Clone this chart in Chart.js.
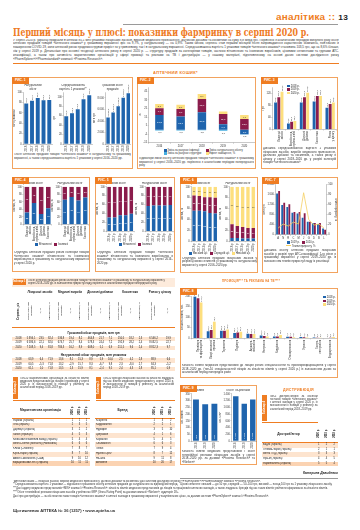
<!DOCTYPE html>
<html lang="uk"><head><meta charset="utf-8">
<script src="https://cdn.jsdelivr.net/npm/chart.js@4.4.1/dist/chart.umd.min.js"></script>
<style>
html,body{margin:0;padding:0;background:#fff}
body{width:360px;height:530px;position:relative;overflow:hidden;font-family:"Liberation Sans",Arial,sans-serif;color:#222}
.tag{position:absolute;background:#ef7d22;color:#fff;font-size:3.3px;font-weight:bold;height:7px;line-height:7px;padding:0 3px;white-space:nowrap}
.cap{position:absolute;font-size:2.9px;line-height:3.5px;text-align:justify;color:#333;overflow:hidden}
.leg{position:absolute;font-size:2.7px;line-height:3.4px;white-space:nowrap;color:#333}
.leg i{display:inline-block;width:3px;height:2.5px;margin:0 0.8px 0 1.5px;vertical-align:-0.3px}
.rot{writing-mode:vertical-rl;transform:rotate(180deg);white-space:nowrap}
.hd{position:absolute;color:#ef7d22;font-weight:bold;white-space:nowrap;letter-spacing:0.3px}
</style>
</head><body>
<script>
// ================= DATA =================
const fig1Years=["2016","2017","2018","2019","2020"];
const fig1Packs=[78.2,83.4,88.9,84.3,85.1];
const fig1AvgPrice=[59.2,65.5,73.6,95.3,103.5];
const fig1Money=[4628.4,5461.7,6546.2,8032.5,8812.3];

const fig2Years=["2016","2017","2018","2019","2020"];
const fig2Inflation=[17.3,15.7,20.5,6.7,-5.1];
const fig2Natural=[7.9,8.7,15.7,11.8,12.6];
const fig2Structure=[5.1,5.1,5.9,3.1,4.7];
const fig2Other=[-0.6,-0.8,-0.5,-1.0,-0.3];

const fig3Cats=[["Лікарські","засоби"],["Вироби мед.","призначення"],["Дієтичні","добавки"],["Косметика"],["Ринок","у цілому"]];
const fig3Y2018=[89.6,19.6,89.6,92.4,71.4];
const fig3Y2019=[106.4,25.2,106.4,110.6,84.0];
const fig3Y2020=[124.6,28.0,121.8,110.6,89.6];

const fig4Cats=[["Лікарські","засоби"],["Вироби мед.","призначення"],["Дієтичні","добавки"],["Косметика"]];
const fig4MoneyDomestic=[32,57,28,43];
const fig4MoneyForeign=[68,43,72,57];
const fig4PacksDomestic=[66,73,64,72];
const fig4PacksForeign=[34,27,36,28];

const fig5Years=["2016 р.","2017 р.","2018 р.","2019 р.","2020 р."];
const fig5MoneyDomestic=[31,31,36,36,39];
const fig5MoneyForeign=[69,69,64,64,61];
const fig5PacksDomestic=[57,58,58,58,59];
const fig5PacksForeign=[43,42,42,42,41];

const fig6Years=["2016 р.","2017 р.","2018 р.","2019 р.","2020 р."];
const fig6MoneyHigh=[56,56,55,52,51];
const fig6MoneyMid=[28,27,26,29,29];
const fig6MoneyLow=[16,17,19,19,20];
const fig6PacksHigh=[6,6,5,5,5];
const fig6PacksMid=[25,22,21,19,19];
const fig6PacksLow=[69,72,74,76,76];

const fig7Groups=["A","N","R","C","M","J","G","D","B","L"];
const fig7Y2019=[1627,1173,1093,867,840,667,507,467,427,240];
const fig7Y2020=[1733,1267,1200,893,893,853,507,467,460,200];
const fig7Growth=[13,21,17,25,21,83,30,19,21,13];

const fig8Spec=[["Провізори","та фармацевти"],["Лікарі загальної","практики"],["Терапевти"],["Педіатри"],["Акушери-","гінекологи"],["Неврологи"],["Кардіологи"],["Отоларингологи"],["Урологи"],["Гастро-","ентерологи"],["Ендокринологи"]];
const fig8Y2018=[198,33,36,25,22,13,9,7,6,4,2];
const fig8Y2019=[190,40,36,27,20,11,9,7,5,3,2.5];
const fig8Y2020=[170,78,42,31,20,9,16,5.5,4,3,6];

const fig9Years=["2018","2019","2020"];
const fig9Visits=[308,272,277];
const fig9TvGrp=[1330,1106,1232];

const t1Groups=["Лікарські засоби","Медичні вироби","Дієтичні добавки","Косметика","Ринок у цілому"];
const t1Years=["2018","2019","2020"];
const t1Money2018=[5394.1,23.5,82.4,536.8,19.4,8.2,464.8,21.7,7.1,150.5,18.2,2.3,6546.2,19.9];
const t1Money2019=[6586.6,22.1,82.0,674.7,25.7,8.4,578.3,24.4,7.2,192.9,28.2,2.4,8032.5,22.7];
const t1Money2020=[7208.5,9.4,81.8,784.3,16.2,8.9,608.0,5.1,6.9,211.5,9.6,2.4,8812.3,9.7];
const t1Packs2018=[63.9,6.4,71.9,13.6,8.1,15.3,8.9,5.9,10.0,2.5,4.2,2.8,88.9,6.6];
const t1Packs2019=[60.5,-5.3,71.8,13.2,-2.9,15.7,8.3,-6.7,9.8,2.3,-8.0,2.7,84.3,-5.2];
const t1Packs2020=[61.1,1.0,71.8,13.5,2.3,15.9,8.1,-2.4,9.5,2.4,4.3,2.8,85.1,0.9];

const rankYears=["2020 р.","2019 р.","2018 р."];
const t2Orgs=["Фармак (Україна)","Teva (Ізраїль)","Дарниця (Україна)","Sanofi (Франція)","Київський вітамінний завод (Україна)","Berlin-Chemie (Menarini) (Німеччина)","KRKA (Словенія)","Юрія-Фарм (Україна)","Abbott Laboratories (США)","Борщагівський ХФЗ (Україна)"];
const t2Rank2020=[1,2,3,4,5,6,7,8,9,10];
const t2Rank2019=[1,3,2,5,4,6,8,7,10,11];
const t2Rank2018=[1,5,2,3,4,6,7,10,12,11];
const t3Brands=["Ксарелто","Кардіомагніл","Нурофен","Цитрамон","Корвалол","Спазмалгон","Лінекс","Нуклео ЦМФ","Но-шпа","Актовегін"];
const t3Rank2020=[1,2,3,4,5,6,7,8,9,10];
const t3Rank2019=[3,2,5,1,4,6,9,7,11,20];
const t3Rank2018=[2,1,10,6,5,3,4,12,8,17];
const t4Dist=["БаДМ (Україна)","Оптима-Фарм (Україна)","Вента ЛТД (Україна)","Фра-М (Україна)","Фармпланета (Україна)"];
const t4Rank2020=[1,2,3,4,5];
const t4Rank2019=[2,1,3,4,5];
const t4Rank2018=[2,1,3,5,4];

// ================= HELPERS =================
const C_BLUE='#1f64ad',C_MAR='#8b1c4c',C_YEL='#fddf7e',C_TEAL='#45aee0',C_OR='#ef7d22';
const fam='"Liberation Sans", Arial, sans-serif';
function fmt(v,d){let s=(d!=null?Number(v).toFixed(d):String(v));let neg=s[0]==='-';if(neg)s=s.slice(1);let p=s.split('.');let i=p[0].replace(/\B(?=(\d{3})+(?!\d))/g,' ');return (neg?'-':'')+(p[1]?i+','+p[1]:i);}
function el(tag,css,html){const e=document.createElement(tag);e.style.cssText='position:absolute;'+css;if(html!=null)e.innerHTML=html;document.body.appendChild(e);return e;}
function box(x,y,w,h){return el('div',`left:${x}px;top:${y}px;width:${w}px;height:${h}px;border:0.8px solid #f2a35f;box-sizing:border-box;background:#fff`);}
function tag(x,y,t){const e=el('div',`left:${x}px;top:${y}px;`,t);e.className='tag';return e;}
function cap(x,y,w,h,t){const e=el('div',`left:${x}px;top:${y}px;width:${w}px;height:${h}px;`,t);e.className='cap';return e;}
function leg(x,y,items,w){const e=el('div',`left:${x}px;top:${y}px;`+(w?`width:${w}px;text-align:center;`:''),items.map(a=>a[2]==='line'?`<i style="background:${a[0]};height:0.7px;width:5px;vertical-align:0.6px"></i>${a[1]}`:`<i style="background:${a[0]}"></i>${a[1]}`).join(' '));e.className='leg';return e;}
function cv(x,y,w,h){const c=document.createElement('canvas');c.width=w;c.height=h;c.style.cssText=`position:absolute;left:${x}px;top:${y}px;width:${w}px;height:${h}px`;document.body.appendChild(c);return c;}

Chart.defaults.font.family=fam;Chart.defaults.font.size=2.8;Chart.defaults.color='#333';
Chart.defaults.animation=false;Chart.defaults.responsive=false;Chart.defaults.maintainAspectRatio=false;Chart.defaults.devicePixelRatio=1;
Chart.defaults.plugins.legend.display=false;Chart.defaults.plugins.tooltip.enabled=false;
Chart.defaults.layout.padding=0;

const valPlugin={id:'vals',afterDatasetsDraw(ch,a,o){
  if(!o||!o.mode)return;const c=ch.ctx;
  ch.data.datasets.forEach((ds,i)=>{const m=ch.getDatasetMeta(i);if(m.type==='line'||ds.noVals)return;
    m.data.forEach((e,j)=>{const v=ds.data[j];if(v==null)return;const t=fmt(v,o.dec);
      c.save();c.font=`${o.size||2.5}px ${fam}`;
      if(o.mode==='center'){
        const h=Math.abs(e.base-e.y);
        if(ds.valBelow){c.fillStyle='#333';c.textAlign='center';c.textBaseline='top';c.fillText(t,e.x,Math.max(e.y,e.base)+1);}
        else if(h>=(o.minH||3)){c.fillStyle=ds.valColor||'#fff';c.textAlign='center';c.textBaseline='middle';c.fillText(t,e.x,(e.y+e.base)/2);}
      }else if(o.mode==='rot'){c.fillStyle='#333';c.translate(e.x,e.y-0.7);c.rotate(-Math.PI/2);c.textAlign='left';c.textBaseline='middle';c.fillText(t,0,0);}
      else if(o.mode==='rotIn'){c.fillStyle='#fff';c.translate(e.x,e.base-2);c.rotate(-Math.PI/2);c.textAlign='left';c.textBaseline='middle';c.fillText(t,0,0);}
      c.restore();});});}};
Chart.register(valPlugin);

function yAx(min,max,step,title,extra){return Object.assign({type:'linear',min:min,max:max,
  ticks:{stepSize:step,padding:0.6,font:{size:2.6},callback:v=>fmt(v)},
  grid:{drawOnChartArea:false,tickLength:1,lineWidth:0.4,color:'#777'},
  border:{color:'#777',width:0.4},
  title:{display:!!title,text:title,padding:{top:0,bottom:0.6},font:{size:2.7}}},extra||{});}
function xAx(rot,extra){return Object.assign({type:'category',
  ticks:{autoSkip:false,minRotation:rot,maxRotation:rot,padding:0.6,font:{size:2.6}},
  grid:{drawOnChartArea:false,tickLength:1,lineWidth:0.4,color:'#777'},
  border:{color:'#777',width:0.4}},extra||{});}
function ttl(lines){return {display:true,text:lines,font:{size:2.8,weight:'normal'},padding:{top:0,bottom:1.5},color:'#333'};}

// ================= PAGE HEADER =================
el('div','left:123px;top:23.5px;width:215px;height:0.6px;background:#9a9a9a');
el('div','left:276px;top:11px;white-space:nowrap;font-weight:bold;font-size:9.5px;line-height:11px;letter-spacing:0.2px','<span style="color:#ef7d22">аналітика ::</span> <span style="color:#222;font-size:8px">13</span>').dataset.w=72;
el('div','left:13px;top:26px;white-space:nowrap;font-family:"DejaVu Serif Condensed","DejaVu Serif",serif;font-weight:bold;font-size:11.5px;line-height:12px;color:#ee7a1f','Перший місяць у плюсі: показники фармринку в серпні 2020 р.').dataset.w=296;
el('div','left:13px;top:38.5px;width:326px;height:24px;font-size:3.05px;line-height:3.95px;text-align:justify;color:#333;overflow:hidden',
'У серпні 2020 р. українці придбали в аптеках 85,1 млн упаковок лікарських засобів, виробів медичного призначення, дієтичних добавок та косметики на суму 8,8 млрд грн. Порівняно з аналогічним періодом минулого року обсяг аптечних продажів товарів «аптечного кошика» у грошовому вираженні зріс на 9,7%, у натуральному — на 0,9%. Таким чином, серпень став першим місяцем після запровадження карантинних обмежень, пов’язаних із поширенням COVID-19, коли аптечний ринок продемонстрував приріст як у гривневому, так і в натуральному вираженні. Середньозважена вартість 1 упаковки товарів «аптечного кошика» становила 103,5 грн, що на 8,6% більше, ніж у серпні 2019 р. Детальніше про основні тенденції аптечного ринку в серпні 2020 р. — структуру продажів за категоріями товарів, часткою вітчизняних та іноземних виробників, ціновими сегментами та групами АТС-класифікації, а також про активність маркетингових організацій у сфері промоції та реклами на ТВ і дистрибуцію — у нашому матеріалі, підготовленому на основі даних системи дослідження ринку «PharmXplorer»/«Pharmstandard» компанії «Proxima Research».');
el('div','left:13px;top:63px;width:326px;height:0.9px;background:#ef7d22');
el('div','left:153px;top:71px;font-size:3.8px;line-height:4px','АПТЕЧНИЙ КОШИК*').className='hd';
document.body.lastChild.dataset.w=45;

// ================= BOXES =================
box(12,77,121,92);box(137,77,119,92);box(261,77,77,92);
box(12,177,78,95);box(95,177,80,95);box(180,177,78,96);box(262,177,76,96);
box(180,288,158,90);box(180,385,77,80);

// Fig 1
new Chart(cv(13,84,40,68),{type:'bar',data:{labels:fig1Years,datasets:[{data:fig1Packs,backgroundColor:C_BLUE,barPercentage:0.8,categoryPercentage:0.85}]},
 options:{plugins:{title:ttl(['Натуральний','обсяг']),vals:{mode:'rot',dec:1,size:2.4}},scales:{x:xAx(90),y:yAx(0,100,10,'Млн упаковок')}}});
new Chart(cv(53,84,40,68),{type:'bar',data:{labels:fig1Years,datasets:[{data:fig1AvgPrice,backgroundColor:C_BLUE,barPercentage:0.8,categoryPercentage:0.85}]},
 options:{plugins:{title:ttl(['Середньозважена','вартість 1 упаковки**']),vals:{mode:'rot',dec:1,size:2.4}},scales:{x:xAx(90),y:yAx(0,110,10,'Грн')}}});
new Chart(cv(93,84,39,68),{type:'bar',data:{labels:fig1Years,datasets:[{data:fig1Money,backgroundColor:C_BLUE,barPercentage:0.8,categoryPercentage:0.85}]},
 options:{plugins:{title:ttl(['Грошовий обсяг','продажів']),vals:{mode:'rot',dec:1,size:2.4}},scales:{x:xAx(90),y:yAx(0,9000,1000,'Млн грн')}}});
cap(14,153,117,14,'Обсяг аптечних продажів товарів «аптечного кошика» в натуральному та грошовому вираженні, а також середньозважена вартість 1 упаковки у серпні 2016–2020 рр.');

// Fig 2
new Chart(cv(139,85,116,63),{type:'bar',data:{labels:fig2Years,datasets:[
  {data:fig2Inflation,backgroundColor:C_BLUE,stack:'s',barPercentage:0.5},
  {data:fig2Natural,backgroundColor:C_MAR,stack:'s',barPercentage:0.5},
  {data:fig2Structure,backgroundColor:C_YEL,stack:'s',barPercentage:0.5,valColor:'#333'},
  {data:fig2Other,backgroundColor:C_TEAL,stack:'s',barPercentage:0.5,valBelow:true}]},
 options:{plugins:{vals:{mode:'center',dec:1,size:2.4,minH:3}},scales:{x:xAx(0,{stacked:true}),y:yAx(-15,50,5,'%',{stacked:true})}}});
leg(162,149,[[C_BLUE,'Зміна за рахунок інфляції']]);leg(204,149,[[C_MAR,'Зміна натурального обсягу']]);
leg(162,152.4,[[C_TEAL,'Зміна за рахунок структури']]);leg(204,152.4,[[C_YEL,'Ефект заміщення, %']]);
cap(139,157,115,10,'Індикатори зміни обсягу аптечних продажів товарів «аптечного кошика» в грошовому вираженні у серпні 2016–2020 рр. порівняно з аналогічним періодом попереднього року');

// Fig 3
new Chart(cv(262,85,75,62),{type:'bar',data:{labels:fig3Cats,datasets:[
  {data:fig3Y2018,backgroundColor:C_BLUE,barPercentage:0.9,categoryPercentage:0.75},
  {data:fig3Y2019,backgroundColor:C_MAR,barPercentage:0.9,categoryPercentage:0.75},
  {data:fig3Y2020,backgroundColor:C_YEL,barPercentage:0.9,categoryPercentage:0.75}]},
 options:{plugins:{vals:{mode:'rot',dec:1,size:2.2}},scales:{x:xAx(90),y:yAx(0,140,20,'Грн')}}});
el('div','left:287px;top:84.5px;font-size:2.6px;line-height:3.3px',`<span style="display:inline-block;width:3px;height:2.4px;background:${C_BLUE}"></span> 2018 р.<br><span style="display:inline-block;width:3px;height:2.4px;background:${C_MAR}"></span> 2019 р.<br><span style="display:inline-block;width:3px;height:2.4px;background:${C_YEL}"></span> 2020 р.`);
cap(263,147,73,21,'Динаміка середньозваженої вартості 1 упаковки лікарських засобів, виробів медичного призначення, дієтичних добавок та косметики, а також ринку в цілому у серпні 2018–2020 рр. у розрізі категорій товарів «аптечного кошика»');

// ================= ROW 2 =================
function stack2(x,y,w,h,labels,title,a,b,rot){return new Chart(cv(x,y,w,h),{type:'bar',data:{labels:labels,datasets:[
  {data:a,backgroundColor:C_BLUE,stack:'s',barPercentage:0.75,categoryPercentage:0.85},
  {data:b,backgroundColor:C_MAR,stack:'s',barPercentage:0.75,categoryPercentage:0.85}]},
  options:{plugins:{title:ttl([title]),vals:{mode:'center',size:2.2,minH:4}},scales:{x:xAx(rot,{stacked:true}),y:yAx(0,100,10,'Частка, %',{stacked:true})}}});}
stack2(13,182,39,60,fig4Cats,'Грошовий обсяг',fig4MoneyDomestic,fig4MoneyForeign,90);
stack2(51,182,38,60,fig4Cats,'Натуральний обсяг',fig4PacksDomestic,fig4PacksForeign,90);
leg(13,243,[[C_BLUE,'Вітчизняні'],[C_MAR,'Іноземні']],76);
cap(14,251,75,19,'Структура аптечних продажів різних категорій товарів «аптечного кошика» вітчизняного та іноземного виробництва в грошовому та натуральному вираженні у серпні 2020 р.');

stack2(96,182,39,60,fig5Years,'Грошовий обсяг',fig5MoneyDomestic,fig5MoneyForeign,90);
stack2(135,182,39,60,fig5Years,'Натуральний обсяг',fig5PacksDomestic,fig5PacksForeign,90);
leg(96,243,[[C_BLUE,'Вітчизняні'],[C_MAR,'Іноземні']],78);
cap(97,251,76,19,'Структура аптечних продажів товарів «аптечного кошика» вітчизняного та іноземного виробництва в грошовому та натуральному вираженні у серпні 2016–2020 рр.');

function stack3(x,y,w,h,title,a,b,c){return new Chart(cv(x,y,w,h),{type:'bar',data:{labels:fig6Years,datasets:[
  {data:a,backgroundColor:C_BLUE,stack:'s',barPercentage:0.75,categoryPercentage:0.85},
  {data:b,backgroundColor:C_MAR,stack:'s',barPercentage:0.75,categoryPercentage:0.85},
  {data:c,backgroundColor:C_YEL,stack:'s',barPercentage:0.75,categoryPercentage:0.85,valColor:'#333'}]},
  options:{plugins:{title:ttl([title]),vals:{mode:'center',size:2.2,minH:4}},scales:{x:xAx(90,{stacked:true}),y:yAx(0,100,10,'Частка, %',{stacked:true})}}});}
stack3(181,182,38,70,'Грошовий обсяг',fig6MoneyHigh,fig6MoneyMid,fig6MoneyLow);
stack3(219,182,38,70,'Натуральний обсяг',fig6PacksHigh,fig6PacksMid,fig6PacksLow);
leg(180,252,[[C_BLUE,'Високий ц/с'],[C_MAR,'Середній ц/с'],[C_YEL,'Низький ц/с']],78);
cap(182,256.5,75,15,'Структура аптечних продажів лікарських засобів у розрізі цінових сегментів у грошовому та натуральному вираженні у серпні 2016–2020 рр.');

new Chart(cv(263,182,74,58),{type:'bar',data:{labels:fig7Groups,datasets:[
  {type:'line',data:fig7Growth,borderColor:'#f5cf63',borderWidth:0.8,pointRadius:0,yAxisID:'y1',order:0},
  {data:fig7Y2019,backgroundColor:C_BLUE,barPercentage:0.9,categoryPercentage:0.8,order:1},
  {data:fig7Y2020,backgroundColor:C_MAR,barPercentage:0.9,categoryPercentage:0.8,order:1}]},
 options:{plugins:{vals:false},scales:{x:xAx(0),y:yAx(0,2000,200,'Млн грн'),y1:yAx(0,100,10,'Темпи приросту, %',{position:'right'})}}});
leg(263,241,[[C_BLUE,'2019 р.'],[C_MAR,'2020 р.']],74);
leg(263,244.5,[['#f5cf63','Темпи приросту, %','line']],74);
cap(264,249,72,22,'Динаміка обсягу аптечних продажів лікарських засобів у розрізі груп АТС-класифікації 1-го рівня в грошовому вираженні у серпні 2019–2020 рр. із зазначенням темпів приросту/спаду їх реалізації');

// ================= TABLE 1 =================
el('div','left:12px;top:278px;width:163px;height:8.5px;background:#fdebdc');
el('div','left:12.5px;top:279px;width:13px;height:6px;background:#ef7d22;color:#fff;font-size:2.6px;line-height:6px;text-align:center;font-weight:bold;white-space:nowrap','Таблиця 1');
el('div','left:28px;top:278.6px;width:140px;height:8px;font-size:2.6px;line-height:3.3px;color:#333;overflow:hidden','Обсяг аптечних продажів різних категорій товарів «аптечного кошика» в грошовому та натуральному вираженні у серпні 2018–2020 рр. із зазначенням приросту/спаду порівняно з аналогічним періодом попереднього року');
(function(){
  const widths=[12,9,9,12,9,9,12,9,9,12,9,9,17,13];
  const xs=[25];widths.forEach(w=>xs.push(xs[xs.length-1]+w));
  const gSpan=[[0,3],[3,6],[6,9],[9,12],[12,14]];
  gSpan.forEach((g,k)=>el('div',`left:${xs[g[0]]}px;top:289px;width:${xs[g[1]]-xs[g[0]]}px;height:7px;font-size:3px;line-height:3.2px;font-weight:bold;text-align:center;display:flex;align-items:center;justify-content:center`,t1Groups[k]));
  const sub=["Обсяг аптечних продажів","Δ, %","Питома вага, %"];
  el('div','left:12px;top:296px;width:13px;height:30px;display:flex;align-items:center;justify-content:center',`<span class="rot" style="font-size:2.7px;font-weight:bold">Серпень, рік</span>`);
  widths.forEach((w,i)=>{const t=i<12?sub[i%3]:(i===12?sub[0]:sub[1]);
    el('div',`left:${xs[i]}px;top:296px;width:${w}px;height:30px;display:flex;align-items:center;justify-content:center`,`<span class="rot" style="font-size:2.5px;white-space:normal;max-height:28px;text-align:center;line-height:2.8px">${t}</span>`);});
  el('div','left:12px;top:327px;width:163px;height:0.6px;background:#ef7d22');
  function section(top,title,rows){
    el('div',`left:12px;top:${top}px;width:163px;height:6px;font-size:3px;line-height:6px;text-align:center;font-weight:bold`,title);
    rows.forEach((r,i)=>{const ty=top+6.8+i*4.4;
      el('div',`left:12px;top:${ty}px;width:163px;height:4.4px;background:${i%2===0?'#fde4cf':'transparent'}`);
      el('div',`left:12px;top:${ty}px;width:13px;height:4.4px;font-size:2.7px;line-height:4.4px;text-align:center`,t1Years[i]);
      r.forEach((v,k)=>el('div',`left:${xs[k]}px;top:${ty}px;width:${widths[k]}px;height:4.4px;font-size:2.6px;line-height:4.4px;text-align:center;white-space:nowrap`,fmt(v,1)));});
  }
  section(330,'Грошовий обсяг продажів, млн грн',[t1Money2018,t1Money2019,t1Money2020]);
  section(351.5,'Натуральний обсяг продажів, млн упаковок',[t1Packs2018,t1Packs2019,t1Packs2020]);
})();

// ================= FIG 8 =================
el('div','left:222px;top:278.5px;font-size:3.3px;line-height:4px','ПРОМОЦІЯ*** ТА РЕКЛАМА НА ТВ****').className='hd';
document.body.lastChild.dataset.w=58;
new Chart(cv(181,294,156,66),{type:'bar',data:{labels:fig8Spec,datasets:[
  {data:fig8Y2018,backgroundColor:C_BLUE,barPercentage:0.9,categoryPercentage:0.7},
  {data:fig8Y2019,backgroundColor:C_MAR,barPercentage:0.9,categoryPercentage:0.7},
  {data:fig8Y2020,backgroundColor:C_YEL,barPercentage:0.9,categoryPercentage:0.7}]},
 options:{plugins:{vals:{mode:'rot',dec:1,size:2.2}},scales:{x:xAx(90),y:yAx(0,200,25,'Кількість візитів, тис.')}}});
el('div','left:323px;top:296px;font-size:2.6px;line-height:3.3px',`<span style="display:inline-block;width:3px;height:2.4px;background:${C_BLUE}"></span> 2018 р.<br><span style="display:inline-block;width:3px;height:2.4px;background:${C_MAR}"></span> 2019 р.<br><span style="display:inline-block;width:3px;height:2.4px;background:${C_YEL}"></span> 2020 р.`);
cap(182,364,154,13,'Кількість візитів медичних представників до лікарів різних спеціальностей та провізорів/фармацевтів у серпні 2018–2020 рр. (топ-10 спеціальностей лікарів за кількістю візитів у серпні 2020 р.) із зазначенням даних за аналогічний період попередніх років');

// ================= TABLES 2, 3 =================
function descBlock(x,y,w,h,label,text){
  el('div',`left:${x}px;top:${y}px;width:5px;height:${h}px;background:#ef7d22;display:flex;align-items:center;justify-content:center`,`<span class="rot" style="color:#fff;font-size:2.6px;font-weight:bold">${label}</span>`);
  el('div',`left:${x+7.5}px;top:${y}px;width:${w-8}px;height:${h}px;font-size:2.7px;line-height:3.15px;color:#333;overflow:hidden;text-align:justify`,text);
  el('div',`left:${x}px;top:${y+h+1}px;width:${w}px;height:0.7px;background:#ef7d22`);
}
function rankTable(x,y,w,nameW,hdrH,rowH,title,names,cols,shadeFn){
  const colW=(w-nameW)/cols.length;
  el('div',`left:${x}px;top:${y}px;width:${nameW}px;height:${hdrH}px;display:flex;align-items:center;justify-content:center;font-size:3.2px;font-weight:bold`,title);
  rankYears.forEach((h,k)=>el('div',`left:${x+nameW+k*colW}px;top:${y}px;width:${colW}px;height:${hdrH}px;display:flex;align-items:center;justify-content:center`,`<span class="rot" style="font-size:2.6px;font-weight:bold">${h}</span>`));
  el('div',`left:${x}px;top:${y+hdrH}px;width:${w}px;height:0.6px;background:#ef7d22`);
  names.forEach((n,i)=>{const ty=y+hdrH+1.2+i*rowH;
    el('div',`left:${x}px;top:${ty}px;width:${w}px;height:${rowH}px;background:${shadeFn(i)}`);
    el('div',`left:${x+1}px;top:${ty}px;width:${nameW-1}px;height:${rowH}px;line-height:${rowH}px;font-size:2.6px;white-space:nowrap;overflow:hidden`,n);
    cols.forEach((c,k)=>el('div',`left:${x+nameW+k*colW}px;top:${ty}px;width:${colW}px;height:${rowH}px;line-height:${rowH}px;font-size:2.6px;text-align:center`,c[i]));});
}
const shadeT=(n)=>i=>(i===n-1?'#fbd3b2':(i%2===1?'#fde4cf':'transparent'));
descBlock(12.5,377,77,22,'Таблиця 2','Топ-10 маркетингових організацій за кількістю візитів медичних представників до лікарів і провізорів у серпні 2020 р. із зазначенням їх позицій у рейтингу за аналогічний період 2018–2019 рр.');
rankTable(12,403,78,57,14.5,4.75,'Маркетингова організація',t2Orgs,[t2Rank2020,t2Rank2019,t2Rank2018],shadeT(10));
descBlock(95.5,377,79,22,'Таблиця 3','Топ-10 брендів лікарських засобів за кількістю згадувань під час візитів медичних представників у серпні 2020 р. із зазначенням їх позицій у рейтингу за аналогічний період 2018–2019 рр.');
rankTable(95,403,80,55,14.5,4.75,'Бренд',t3Brands,[t3Rank2020,t3Rank2019,t3Rank2018],shadeT(10));

// ================= FIG 9 =================
function fig9(x,title,data,max,step,axisTitle){return new Chart(cv(x,389,38,60),{type:'bar',data:{labels:fig9Years,datasets:[{data:data,backgroundColor:C_BLUE,barPercentage:0.75,categoryPercentage:0.85}]},
  options:{plugins:{title:ttl([title]),vals:{mode:'rotIn',size:2.4}},scales:{x:xAx(90),y:yAx(0,max,step,axisTitle)}}});}
fig9(181,'Візити',fig9Visits,350,50,'Тис. візитів');
fig9(219,'Обсяг ТВ-реклами',fig9TvGrp,1400,200,'Тис. GRP');
cap(182,450,73,14,'Кількість візитів медичних представників і обсяг телевізійної реклами лікарських засобів у серпні 2018–2020 рр. за даними «Proxima Research» та «Nielsen»');

// ================= TABLE 4 =================
el('div','left:283px;top:387.5px;font-size:3.6px;line-height:4px','ДИСТРИБЮЦІЯ').className='hd';
document.body.lastChild.dataset.w=31;
descBlock(262,395,56,26,'Таблиця 4','Топ-5 дистриб’юторів за обсягом поставок товарів «аптечного кошика» в аптечні заклади у серпні 2020 р. із зазначенням їх позицій у рейтингу за аналогічний період 2018–2019 рр.');
rankTable(262,425,76,53,17,4.6,'Дистриб’ютор',t4Dist,[t4Rank2020,t4Rank2019,t4Rank2018],i=>(i===4?'#fbd3b2':(i%2===0?'#fde4cf':'transparent')));
el('div','left:303px;top:471px;font-size:3.6px;font-weight:bold;font-style:italic;white-space:nowrap;color:#222','Катерина Давиденко').dataset.w=35;

// ================= FOOTNOTES =================
el('div','left:180px;top:477.5px;width:158px;height:0.5px;background:#999');
el('div','left:13px;top:479.5px;width:325px;height:24px;font-size:2.7px;line-height:3.9px;color:#333;overflow:hidden',
'*Аптечний кошик — лікарські засоби, вироби медичного призначення, дієтичні добавки та косметика; дані системи дослідження ринку «PharmXplorer»/«Pharmstandard» компанії «Proxima Research».<br>'+
'**Середньозважена вартість 1 упаковки — відношення грошового обсягу аптечних продажів до натурального за відповідний період. &nbsp; Цінові сегменти: низький — до 50 грн, середній — 50–100 грн, високий — понад 100 грн за 1 упаковку лікарського засобу.<br>'+
'***Дані аудиту медичних представників «MIS» компанії «Proxima Research»: кількість візитів медичних представників до лікарів та працівників аптечних закладів, а також згадувань брендів під час таких візитів; рейтинги сформовано за кількістю візитів.<br>'+
'****Обсяг телевізійної реклами лікарських засобів у рейтингах GRP (Gross Rating Point) за даними компанії «Nielsen»; аудиторія 18+.<br>'+
'Дані про дистрибуцію — за обсягом поставок товарів «аптечного кошика» в аптечні заклади в грошовому вираженні у закупівельних цінах, за даними системи «PharmXplorer» компанії «Proxima Research».');
el('div','left:13px;top:509px;font-size:3.7px;font-weight:bold;white-space:nowrap;color:#333','Щотижневик АПТЕКА № 36 (1257) • www.apteka.ua').dataset.w=102;

// ================= TAGS (on top) =================
[[12,77,'РИС. 1'],[137,77,'РИС. 2'],[261,77,'РИС. 3'],[12,177,'РИС. 4'],[95,177,'РИС. 5'],[180,177,'РИС. 6'],[262,177,'РИС. 7'],[180,288,'РИС. 8'],[180,385,'РИС. 9']].forEach(a=>tag(a[0],a[1],a[2]));

// fit widths
document.querySelectorAll('[data-w]').forEach(e=>{const w=+e.dataset.w;const r=e.getBoundingClientRect().width;if(r>0){e.style.transformOrigin='0 0';e.style.transform=`scaleX(${w/r})`;}});
</script>
</body></html>
